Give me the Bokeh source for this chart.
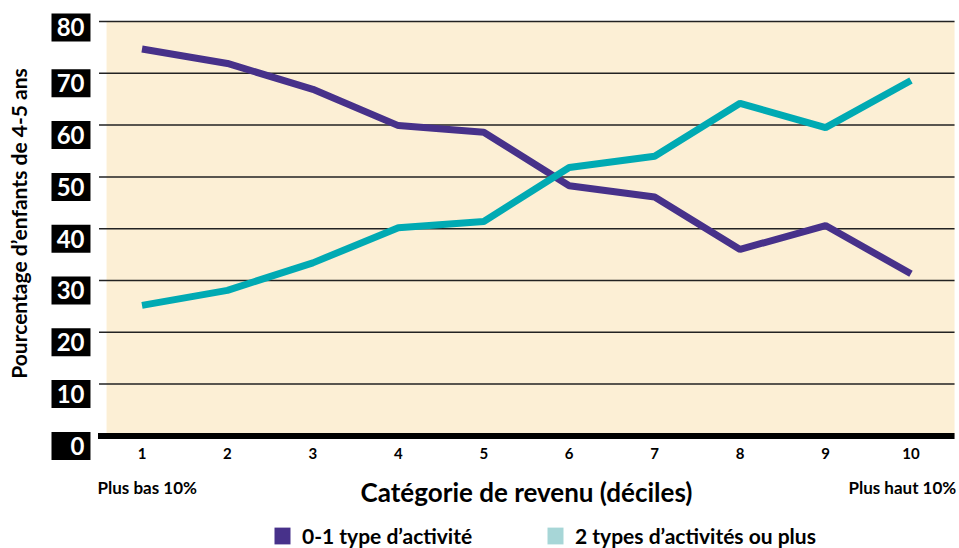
from bokeh.plotting import figure
from bokeh.models import Label, Legend, LegendItem, Range1d
from bokeh.core.properties import value
from bokeh.embed import file_html
from bokeh.resources import INLINE

# ---- data ----
deciles = [1, 2, 3, 4, 5, 6, 7, 8, 9, 10]
decile_labels = ["1", "2", "3", "4", "5", "6", "7", "8", "9", "10"]
low_activity = [74.7, 71.9, 66.9, 59.9, 58.6, 48.3, 46.1, 36.0, 40.6, 31.3]
high_activity = [25.2, 28.1, 33.4, 40.2, 41.4, 51.8, 54.0, 64.2, 59.5, 68.6]
y_ticks = [0, 10, 20, 30, 40, 50, 60, 70, 80]
y_tick_labels = ["0", "10", "20", "30", "40", "50", "60", "70", "80"]
series_names = ["0-1 type d\u2019activit\u00e9", "2 types d\u2019activit\u00e9s ou plus"]
line_colors = ["#47318A", "#00AAB3"]
legend_colors = ["#47318A", "#A7D6D7"]
y_title = "Pourcentage d\u2019enfants de 4-5 ans"
x_title = "Cat\u00e9gorie de revenu (d\u00e9ciles)"
left_note = "Plus bas 10%"
right_note = "Plus haut 10%"

FONT = "Lato"
BEIGE = "#FCEFD5"

# px per unit: x 85.44, y 5.18 ; frame covers whole canvas
PX_Y = 5.18
X0, X1 = -0.6561, 10.568
Y0, Y1 = -21.74, 84.05
GRID_L, PANEL_L, PANEL_R = 0.497, 0.585, 10.51
BOX_L, BOX_R = -0.0592, 0.397

p = figure(width=959, height=548, output_backend="svg", toolbar_location=None,
           x_range=Range1d(X0, X1), y_range=Range1d(Y0, Y1),
           min_border=0)
p.outline_line_color = None
p.background_fill_color = "white"
p.border_fill_color = "white"
p.xaxis.visible = False
p.yaxis.visible = False
p.grid.visible = False

# beige plotting panel
p.quad(left=[PANEL_L], right=[PANEL_R], bottom=[0], top=[max(y_ticks)],
       fill_color=BEIGE, line_color=None)

# horizontal grid lines
grid_vals = [t for t in y_ticks if t > 0]
p.segment(x0=[GRID_L] * len(grid_vals), x1=[PANEL_R] * len(grid_vals),
          y0=grid_vals, y1=grid_vals, line_color="#222222", line_width=1.5)
# zero line
p.segment(x0=[GRID_L - 0.012], x1=[PANEL_R], y0=[0], y1=[0], line_color="black", line_width=6)

# lines
p.line(deciles, low_activity, line_color=line_colors[0], line_width=7)
p.line(deciles, high_activity, line_color=line_colors[1], line_width=7)

# x tick labels
p.text(x=deciles, y=[-3.4] * len(deciles), text=decile_labels, text_align="center",
       text_baseline="middle", text_font=value(FONT), text_font_style="bold",
       text_font_size="15px", text_color="black")

# y tick labels: white on black boxes (box centre sits ~10px under the grid value)
shift = [(6 if t == max(y_ticks) else 10) / PX_Y for t in y_ticks]
half = 14 / PX_Y
p.quad(left=[BOX_L] * len(y_ticks), right=[BOX_R] * len(y_ticks),
       top=[t - s + half for t, s in zip(y_ticks, shift)],
       bottom=[t - s - half for t, s in zip(y_ticks, shift)],
       fill_color="black", line_color=None)
p.text(x=[BOX_R] * len(y_ticks), y=[t - s for t, s in zip(y_ticks, shift)],
       text=y_tick_labels, x_offset=-6, text_align="right", text_baseline="middle",
       text_font=value(FONT), text_font_style="bold", text_font_size="24px",
       text_color="white")

# legend swatches (zero-size quads, only used for the legend)
sw = [p.quad(left=[0], right=[0], top=[0], bottom=[0], fill_color=c, line_color=None)
      for c in legend_colors]
legend = Legend(items=[LegendItem(label=n, renderers=[r]) for n, r in zip(series_names, sw)],
                orientation="horizontal", location=(272, 0),
                glyph_width=20, glyph_height=21, label_height=21, label_standoff=10,
                label_width=243, spacing=0, padding=0, margin=0, border_line_color=None,
                background_fill_alpha=0, label_text_font=FONT,
                label_text_font_style="bold", label_text_font_size="21px",
                label_text_color="black")
p.add_layout(legend)

# y title
p.add_layout(Label(x=-0.445, y=41.0, text=y_title, angle=1.5707963, text_align="center",
                   text_baseline="middle", text_font=FONT, text_font_style="bold",
                   text_font_size="21px", text_color="black"))

# x title
p.add_layout(Label(x=5.5, y=-10.9, text=x_title, text_align="center", text_baseline="middle",
                   text_font=FONT, text_font_style="bold", text_font_size="26px",
                   text_color="black"))

# end notes
p.add_layout(Label(x=0.479, y=-10.0, text=left_note, text_align="left", text_baseline="middle",
                   text_font=FONT, text_font_style="bold", text_font_size="17px",
                   text_color="black"))
p.add_layout(Label(x=10.53, y=-10.0, text=right_note, text_align="right", text_baseline="middle",
                   text_font=FONT, text_font_style="bold", text_font_size="17px",
                   text_color="black"))

open("out.html", "w").write(file_html(p, INLINE))
